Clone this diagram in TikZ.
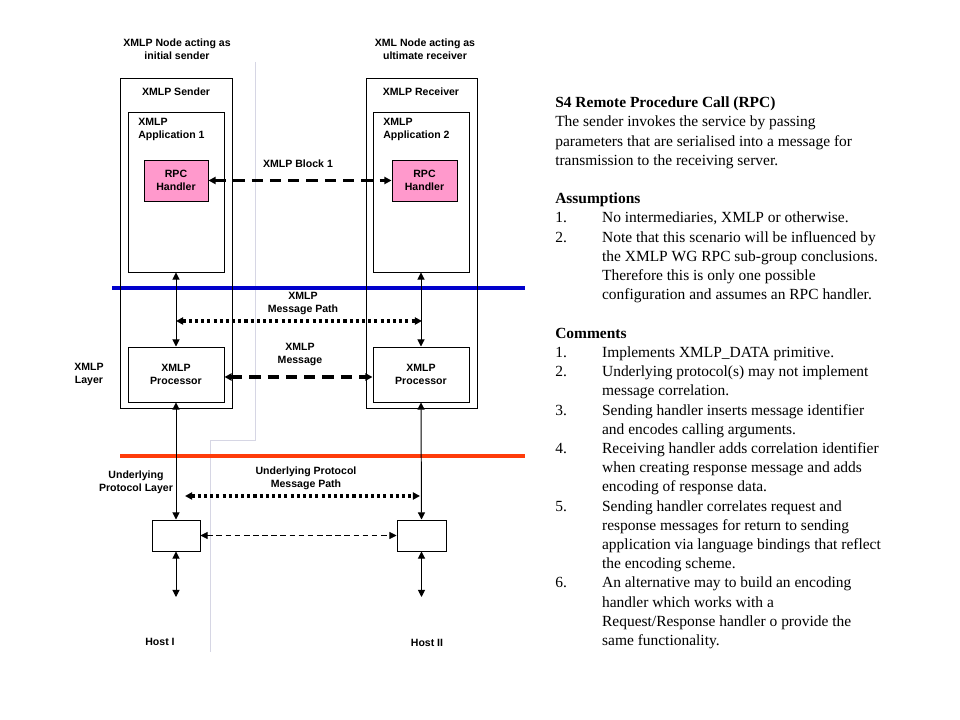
\documentclass[tikz,border=0pt]{standalone}
\usepackage{fontspec}
\setmainfont{Liberation Serif}
\setsansfont{Liberation Sans}
\usetikzlibrary{arrows.meta, positioning}

\definecolor{handlerpink}{RGB}{255,153,204}
\definecolor{xmlpblue}{RGB}{0,0,204}
\definecolor{protored}{RGB}{255,60,10}
\definecolor{sepgray}{RGB}{214,214,228}

\begin{document}
\begin{tikzpicture}[x=0.025cm, y=-0.025cm, >={Triangle[length=5pt,width=5pt]},
    lbl/.style={font=\sffamily\bfseries\fontsize{7.5}{9.2}\selectfont, align=center, inner sep=0pt},
    box/.style={draw, line width=0.7pt, inner sep=0pt},
    link/.style={<->, line width=0.7pt},
    bigdash/.style={<->, line width=2.2pt, dash pattern=on 8pt off 5pt},
    bigdot/.style={<->, line width=2.2pt, dash pattern=on 2.2pt off 2.2pt},
    thindash/.style={<->, line width=0.6pt, dash pattern=on 4pt off 2.5pt}]

    % --- 1. Canvas ---
    \def\pxu{0.025cm} % one pixel of the slide
    \useasboundingbox (0,0) rectangle (960,720);

    % --- 2. Separator and layer lines ---
    \draw[sepgray, line width=0.5pt] (255,62) -- (255,440) -- (210,440) -- (210,652);
    \draw[xmlpblue, line width=2.2pt] (112,288) -- (525,288);
    \draw[protored, line width=2.2pt] (120,456) -- (525,456);

    % --- 3. Sender side ---
    \node[box, minimum width=112*\pxu, minimum height=330*\pxu] (sender) at (176,243) {};
    \node[box, minimum width=96*\pxu, minimum height=160*\pxu] (app1) at (176,192) {};
    \node[box, fill=handlerpink, lbl, minimum width=64*\pxu, minimum height=41*\pxu] (rpc1) at (176,180.5) {RPC\\Handler};
    \node[box, lbl, minimum width=96*\pxu, minimum height=55*\pxu] (proc1) at (176,374.5) {XMLP\\Processor};
    \node[box, minimum width=48*\pxu, minimum height=31*\pxu] (low1) at (176,535.5) {};
    \coordinate (host1) at (176,597);

    % --- 4. Receiver side ---
    \node[box, minimum width=111*\pxu, minimum height=330*\pxu] (receiver) at (421.5,243) {};
    \node[box, minimum width=96*\pxu, minimum height=160*\pxu] (app2) at (421,192) {};
    \node[box, fill=handlerpink, lbl, minimum width=65*\pxu, minimum height=41*\pxu] (rpc2) at (424.5,180.5) {RPC\\Handler};
    \node[box, lbl, minimum width=96*\pxu, minimum height=55*\pxu] (proc2) at (421,374.5) {XMLP\\Processor};
    \node[box, minimum width=49*\pxu, minimum height=31*\pxu] (low2) at (421.5,535.5) {};
    \coordinate (host2) at (421.5,597);

    % --- 5. Connectors ---
    \draw[bigdash] (rpc1.east) -- (rpc2.west);
    \draw[link] (app1.south) -- (proc1.north);
    \draw[link] (app2.south) -- (proc2.north);
    \coordinate (mpathL) at (176,321);
    \coordinate (mpathR) at (422,321);
    \draw[bigdot] (mpathL) -- (mpathR);
    \draw[bigdash] ([yshift=-2.5*\pxu]proc1.east) -- ([yshift=-2.5*\pxu]proc2.west);
    \draw[link] (proc1.south) -- (low1.north);
    \draw[link] (proc2.south) -- (low2.north);
    \coordinate (upathL) at (185,496);
    \coordinate (upathR) at (420,496);
    \draw[bigdot] (upathL) -- (upathR);
    \draw[thindash] (low1.east) -- (low2.west);
    \draw[link] (low1.south) -- (host1);
    \draw[link] (low2.south) -- (host2);

    % --- 6. Labels ---
    \node[lbl] (senderhead) at (177,49.5) {XMLP Node acting as\\initial sender};
    \node[lbl] (receiverhead) at (425,49.5) {XML Node acting as\\ultimate receiver};
    \node[lbl] (sendername) at (176,92) {XMLP Sender};
    \node[lbl] (receivername) at (421,92) {XMLP Receiver};
    \node[lbl, align=left, anchor=west] (app1name) at (138,129.5) {XMLP\\Application 1};
    \node[lbl, align=left, anchor=west] (app2name) at (383,129.5) {XMLP\\Application 2};
    \node[lbl] (blocklbl) at (298,164) {XMLP Block 1};
    \node[lbl] (mpathlbl) at (303,303.5) {XMLP\\Message Path};
    \node[lbl] (msglbl) at (300,354.5) {XMLP\\Message};
    \node[lbl] (layerlbl) at (89,374) {XMLP\\Layer};
    \node[lbl] (protolbl) at (136,482.5) {Underlying\\Protocol Layer};
    \node[lbl] (upathlbl) at (306,478.5) {Underlying Protocol\\Message Path};
    \node[lbl] (host1lbl) at (160,642) {Host I};
    \node[lbl] (host2lbl) at (427,643) {Host II};

    % --- 7. Scenario text ---
    \node[anchor=north west, inner sep=0pt, font=\fontsize{11}{13.66}\selectfont] (notes) at (555,94) {%
    \begin{tabular}{@{}p{33.3pt}@{}l@{}}
    \multicolumn{2}{@{}l@{}}{\textbf{S4 Remote Procedure Call (RPC)}}\\
    \multicolumn{2}{@{}l@{}}{The sender invokes the service by passing}\\
    \multicolumn{2}{@{}l@{}}{parameters that are serialised into a message for}\\
    \multicolumn{2}{@{}l@{}}{transmission to the receiving server.}\\
    &\\
    \multicolumn{2}{@{}l@{}}{\textbf{Assumptions}}\\
    1. & No intermediaries, XMLP or otherwise.\\
    2. & Note that this scenario will be influenced by\\
       & the XMLP WG RPC sub-group conclusions.\\
       & Therefore this is only one possible\\
       & configuration and assumes an RPC handler.\\
    &\\
    \multicolumn{2}{@{}l@{}}{\textbf{Comments}}\\
    1. & Implements XMLP\_DATA primitive.\\
    2. & Underlying protocol(s) may not implement\\
       & message correlation.\\
    3. & Sending handler inserts message identifier\\
       & and encodes calling arguments.\\
    4. & Receiving handler adds correlation identifier\\
       & when creating response message and adds\\
       & encoding of response data.\\
    5. & Sending handler correlates request and\\
       & response messages for return to sending\\
       & application via language bindings that reflect\\
       & the encoding scheme.\\
    6. & An alternative may to build an encoding\\
       & handler which works with a\\
       & Request/Response handler o provide the\\
       & same functionality.
    \end{tabular}};

\end{tikzpicture}
\end{document}
